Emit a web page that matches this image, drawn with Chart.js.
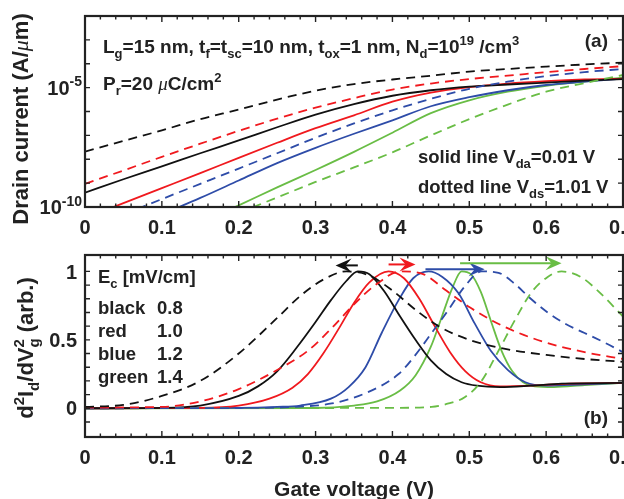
<!DOCTYPE html>
<html>
<head>
<meta charset="utf-8">
<script src="https://cdn.jsdelivr.net/npm/chart.js@4.4.0/dist/chart.umd.min.js"></script>
<style>
	html, body { margin: 0; padding: 0; background: #fff; }
	#wrap { position: relative; width: 624px; height: 499px; overflow: hidden; background: #fff; }
	canvas { position: absolute; left: 0; }
	#topPanel { top: 0; }
	#botPanel { top: 240px; }
</style>
</head>
<body>
<div id="wrap">
	<canvas id="topPanel" width="624" height="240"></canvas>
	<canvas id="botPanel" width="624" height="259"></canvas>
</div>
<script>
'use strict';

// ---- panel (a): drain current (A/um) against gate voltage (V) ----
var vgCurrent = [0, 0.05, 0.1, 0.15, 0.2, 0.25, 0.3, 0.35, 0.4, 0.45, 0.5, 0.55, 0.6, 0.65, 0.7];
var currentBlackSolid = [3.98e-10, 1.45e-9, 5.01e-9, 1.78e-8, 6.17e-8, 2.19e-7, 7.41e-7, 2.04e-6, 4.57e-6, 7.76e-6, 1.10e-5, 1.35e-5, 1.62e-5, 1.95e-5, 2.29e-5];
var currentBlackDash = [2.09e-8, 5.89e-8, 1.62e-7, 4.79e-7, 1.20e-6, 3.16e-6, 7.41e-6, 1.41e-5, 2.19e-5, 3.16e-5, 4.68e-5, 6.03e-5, 7.59e-5, 9.33e-5, 1.12e-4];
var currentRedSolid = [3.39e-11, 1.45e-10, 6.17e-10, 2.63e-9, 1.15e-8, 4.90e-8, 2.00e-7, 6.92e-7, 2.57e-6, 6.17e-6, 1.05e-5, 1.48e-5, 1.86e-5, 2.19e-5, 2.40e-5];
var currentRedDash = [9.33e-10, 3.39e-9, 1.26e-8, 4.47e-8, 1.55e-7, 5.01e-7, 1.45e-6, 3.63e-6, 8.32e-6, 1.48e-5, 2.29e-5, 3.16e-5, 4.47e-5, 6.03e-5, 7.94e-5];
var currentBlueSolid = [null, null, 4.90e-11, 2.40e-10, 1.29e-9, 6.92e-9, 3.02e-8, 1.17e-7, 4.27e-7, 1.66e-6, 3.98e-6, 7.76e-6, 1.29e-5, 1.78e-5, 2.40e-5];
var currentBlueDash = [null, 4.79e-11, 2.14e-10, 9.33e-10, 4.07e-9, 1.78e-8, 7.94e-8, 3.16e-7, 1.12e-6, 3.39e-6, 8.91e-6, 1.78e-5, 3.02e-5, 4.47e-5, 6.03e-5];
var currentGreenSolid = [null, null, null, 2.14e-11, 1.17e-10, 6.61e-10, 3.55e-9, 2.04e-8, 1.29e-7, 8.51e-7, 2.95e-6, 6.76e-6, 1.20e-5, 1.78e-5, 2.63e-5];
var currentGreenDash = [null, null, null, null, 5.62e-11, 2.51e-10, 1.12e-9, 4.57e-9, 1.95e-8, 1.00e-7, 4.79e-7, 1.95e-6, 6.76e-6, 1.55e-5, 3.39e-5];
var currentDecades = [1e-10, 1e-9, 1e-8, 1e-7, 1e-6, 1e-5, 1e-4, 1e-3, 1e-2];
var currentLabelExps = [-10, -5];

// ---- panel (b): d2Id/dVg2 (arb.) against gate voltage (V) ----
var vgBlackSolid = [0, 0.1, 0.15, 0.2, 0.225, 0.25, 0.275, 0.3, 0.32, 0.34, 0.355, 0.37, 0.39, 0.41, 0.43, 0.45, 0.47, 0.49, 0.51, 0.54, 0.58, 0.62, 0.7];
var d2BlackSolid = [0, 0.003, 0.02, 0.09, 0.16, 0.27, 0.44, 0.63, 0.79, 0.93, 1.0, 0.98, 0.85, 0.67, 0.5, 0.35, 0.25, 0.19, 0.165, 0.155, 0.165, 0.18, 0.185];
var vgBlackDash = [0, 0.05, 0.1, 0.15, 0.2, 0.25, 0.28, 0.31, 0.34, 0.37, 0.4, 0.43, 0.46, 0.5, 0.55, 0.6, 0.65, 0.7];
var d2BlackDash = [0.01, 0.025, 0.09, 0.2, 0.4, 0.66, 0.82, 0.94, 1.0, 0.97, 0.86, 0.72, 0.6, 0.5, 0.43, 0.39, 0.36, 0.34];
var vgRedSolid = [0, 0.15, 0.2, 0.24, 0.27, 0.29, 0.31, 0.33, 0.35, 0.37, 0.395, 0.415, 0.435, 0.455, 0.475, 0.495, 0.515, 0.54, 0.58, 0.63, 0.7];
var d2RedSolid = [0, 0.003, 0.02, 0.07, 0.15, 0.25, 0.4, 0.58, 0.77, 0.92, 1.0, 0.95, 0.8, 0.6, 0.41, 0.27, 0.19, 0.16, 0.165, 0.18, 0.185];
var vgRedDash = [0, 0.1, 0.15, 0.2, 0.25, 0.29, 0.32, 0.35, 0.38, 0.41, 0.44, 0.47, 0.5, 0.53, 0.56, 0.6, 0.65, 0.7];
var d2RedDash = [0.005, 0.01, 0.05, 0.14, 0.28, 0.42, 0.58, 0.76, 0.91, 1.0, 0.98, 0.86, 0.74, 0.64, 0.56, 0.48, 0.41, 0.36];
var vgBlueSolid = [0, 0.2, 0.25, 0.28, 0.32, 0.343, 0.365, 0.386, 0.408, 0.427, 0.447, 0.465, 0.486, 0.507, 0.528, 0.55, 0.573, 0.6, 0.65, 0.7];
var d2BlueSolid = [0, 0.003, 0.01, 0.02, 0.07, 0.155, 0.3, 0.55, 0.79, 0.95, 1.0, 0.96, 0.84, 0.62, 0.42, 0.28, 0.19, 0.165, 0.175, 0.185];
var vgBlueDash = [0, 0.2, 0.25, 0.28, 0.321, 0.365, 0.408, 0.43, 0.451, 0.473, 0.494, 0.516, 0.538, 0.559, 0.58, 0.602, 0.624, 0.65, 0.676, 0.7];
var d2BlueDash = [0, 0.002, 0.005, 0.012, 0.035, 0.11, 0.25, 0.39, 0.55, 0.72, 0.89, 1.0, 0.99, 0.91, 0.8, 0.7, 0.62, 0.55, 0.48, 0.41];
var vgGreenSolid = [0, 0.3, 0.35, 0.38, 0.41, 0.43, 0.45, 0.465, 0.478, 0.49, 0.502, 0.515, 0.528, 0.542, 0.556, 0.57, 0.585, 0.61, 0.65, 0.7];
var d2GreenSolid = [0, 0.002, 0.02, 0.05, 0.13, 0.24, 0.45, 0.68, 0.88, 1.0, 0.98, 0.85, 0.64, 0.42, 0.27, 0.19, 0.16, 0.155, 0.17, 0.185];
var vgGreenDash = [0, 0.4, 0.451, 0.473, 0.494, 0.516, 0.538, 0.559, 0.58, 0.602, 0.62, 0.645, 0.667, 0.7];
var d2GreenDash = [0, 0.003, 0.01, 0.035, 0.08, 0.2, 0.42, 0.64, 0.84, 0.96, 1.0, 0.96, 0.86, 0.67];
var d2LabelValues = [0, 0.5, 1];

// peak shift arrows (solid peak -> dashed peak)
var arrowColors = ['black', 'red', 'blue', 'green'];
var arrowFrom = [0.355, 0.395, 0.443, 0.488];
var arrowTo = [0.326, 0.43, 0.52, 0.62];
var arrowLevel = [1.044, 1.051, 1.015, 1.06];

// E_c legend table
var ecNames = ['black', 'red', 'blue', 'green'];
var ecValues = ['0.8', '1.0', '1.2', '1.4'];

var COLORS = { black: '#111111', red: '#f0191e', blue: '#2e4ca8', green: '#69bd45' };
var INK = '#222222';
var FONT = '"Liberation Sans", Arial, Helvetica, sans-serif';

function pairs(xs, ys) {
	return xs.map(function (x, i) {
		return { x: x, y: ys[i] };
	});
}

function curve(label, color, dashed, data) {
	return {
		label: label,
		data: data,
		borderColor: COLORS[color],
		borderWidth: 1.8,
		borderDash: dashed ? [9, 6] : [],
		pointRadius: 0,
		fill: false,
		cubicInterpolationMode: 'monotone',
		clip: 0
	};
}

/**
 * Draws text made of pieces: [text], [text, 'sub'], [text, 'sup'],
 * [text, 'mu'] (italic greek) or [sub, 'subsup', sup] stacked.
 */
function drawRich(ctx, parts, x, y, size, align, middle) {
	var small = Math.round(size * 0.68),
		pieces = [],
		width = 0;

	parts.forEach(function (p) {
		var kind = p[1] || '',
			sz = (kind === 'sub' || kind === 'sup' || kind === 'subsup') ? small : size,
			font = kind === 'mu' ?
				'italic ' + sz + 'px "Liberation Serif", "DejaVu Serif", serif' :
				'bold ' + sz + 'px ' + FONT,
			w;
		ctx.font = font;
		w = ctx.measureText(p[0]).width;
		if (kind === 'subsup') {
			w = Math.max(w, ctx.measureText(p[2]).width);
		}
		pieces.push({ p: p, kind: kind, font: font, w: w });
		width += w;
	});

	if (align === 'center') {
		x -= width / 2;
	} else if (align === 'right') {
		x -= width;
	}
	if (middle) {
		y += size * 0.36;
	}

	ctx.textAlign = 'left';
	ctx.textBaseline = 'alphabetic';
	pieces.forEach(function (pc) {
		ctx.font = pc.font;
		if (pc.kind === 'sub') {
			ctx.fillText(pc.p[0], x, y + size * 0.28);
		} else if (pc.kind === 'sup') {
			ctx.fillText(pc.p[0], x, y - size * 0.42);
		} else if (pc.kind === 'subsup') {
			ctx.fillText(pc.p[0], x, y + size * 0.28);
			ctx.fillText(pc.p[2], x, y - size * 0.42);
		} else {
			ctx.fillText(pc.p[0], x, y);
		}
		x += pc.w;
	});
}

function isTenth(v) {
	return Math.abs(v * 10 - Math.round(v * 10)) < 1e-6;
}

// frame, inward ticks, tick labels and annotations of one panel
function framePlugin(cfg) {
	return {
		id: 'frame',
		afterDraw: function (chart) {
			var ctx = chart.ctx,
				a = chart.chartArea,
				sx = chart.scales.x,
				sy = chart.scales.y;

			ctx.save();
			ctx.strokeStyle = INK;
			ctx.fillStyle = INK;
			ctx.lineWidth = 1.4;
			ctx.beginPath();
			sx.ticks.forEach(function (t) {
				var px = sx.getPixelForValue(t.value),
					len = isTenth(t.value) ? 6 : 3.5;
				if (px <= a.left + 1 || px >= a.right - 1) {
					return;
				}
				ctx.moveTo(px, a.bottom);
				ctx.lineTo(px, a.bottom - len);
				ctx.moveTo(px, a.top);
				ctx.lineTo(px, a.top + len);
			});
			sy.ticks.forEach(function (t) {
				var py = sy.getPixelForValue(t.value);
				if (py <= a.top + 1 || py >= a.bottom - 1) {
					return;
				}
				ctx.moveTo(a.left, py);
				ctx.lineTo(a.left + 5, py);
				ctx.moveTo(a.right, py);
				ctx.lineTo(a.right - 5, py);
			});
			ctx.stroke();

			ctx.lineWidth = 2.2;
			ctx.strokeRect(a.left, a.top, a.right - a.left, a.bottom - a.top);

			sx.ticks.forEach(function (t) {
				if (!isTenth(t.value)) {
					return;
				}
				drawRich(ctx, [[t.value === 0 ? '0' : t.value.toFixed(1)]],
					sx.getPixelForValue(t.value), a.bottom + 20, 20, 'center', true);
			});
			cfg.yLabels.forEach(function (lab) {
				drawRich(ctx, lab.parts, a.left - lab.gap,
					sy.getPixelForValue(lab.value), 20, 'right', true);
			});
			cfg.texts.forEach(function (t) {
				drawRich(ctx, t.parts, t.x, t.y, t.size, t.align || 'left');
			});
			cfg.titles.forEach(function (t) {
				ctx.save();
				ctx.translate(t.x, t.y);
				if (t.rotate) {
					ctx.rotate(-Math.PI / 2);
				}
				drawRich(ctx, t.parts, 0, 0, t.size, 'center');
				ctx.restore();
			});
			ctx.restore();
		}
	};
}

var arrowPlugin = {
	id: 'shiftArrows',
	afterDatasetsDraw: function (chart) {
		var ctx = chart.ctx,
			sx = chart.scales.x,
			sy = chart.scales.y;

		ctx.save();
		arrowFrom.forEach(function (v0, i) {
			var x0 = sx.getPixelForValue(v0),
				x1 = sx.getPixelForValue(arrowTo[i]),
				y = sy.getPixelForValue(arrowLevel[i]),
				dir = x1 > x0 ? 1 : -1,
				head = 16,
				half = 7;

			ctx.strokeStyle = COLORS[arrowColors[i]];
			ctx.fillStyle = COLORS[arrowColors[i]];
			ctx.lineWidth = 2;
			ctx.beginPath();
			ctx.moveTo(x0, y);
			ctx.lineTo(x1 - dir * head * 0.6, y);
			ctx.stroke();

			ctx.beginPath();
			ctx.moveTo(x1, y);
			ctx.lineTo(x1 - dir * head, y - half);
			ctx.lineTo(x1 - dir * head * 0.62, y);
			ctx.lineTo(x1 - dir * head, y + half);
			ctx.closePath();
			ctx.fill();
		});
		ctx.restore();
	}
};

function hiddenAxis(extra) {
	var axis = {
		type: 'linear',
		ticks: { display: false },
		grid: { display: false, drawTicks: false },
		border: { display: false }
	};
	Object.keys(extra).forEach(function (k) {
		axis[k] = extra[k];
	});
	return axis;
}

function baseOptions(padding, yAxis) {
	return {
		responsive: false,
		animation: false,
		devicePixelRatio: 1,
		layout: { padding: padding },
		plugins: { legend: { display: false }, tooltip: { enabled: false } },
		scales: {
			x: hiddenAxis({ min: 0, max: 0.7, ticks: { display: false, stepSize: 0.02 } }),
			y: yAxis
		}
	};
}

// ---- panel (a) ----
new Chart(document.getElementById('topPanel'), {
	type: 'line',
	data: {
		datasets: [
			curve('black Vds=1.01', 'black', true, pairs(vgCurrent, currentBlackDash)),
			curve('red Vds=1.01', 'red', true, pairs(vgCurrent, currentRedDash)),
			curve('blue Vds=1.01', 'blue', true, pairs(vgCurrent, currentBlueDash)),
			curve('green Vds=1.01', 'green', true, pairs(vgCurrent, currentGreenDash)),
			curve('black Vds=0.01', 'black', false, pairs(vgCurrent, currentBlackSolid)),
			curve('red Vds=0.01', 'red', false, pairs(vgCurrent, currentRedSolid)),
			curve('blue Vds=0.01', 'blue', false, pairs(vgCurrent, currentBlueSolid)),
			curve('green Vds=0.01', 'green', false, pairs(vgCurrent, currentGreenSolid))
		]
	},
	options: baseOptions({ left: 85, right: 1, top: 16, bottom: 33 }, hiddenAxis({
		type: 'logarithmic',
		min: 1e-10,
		max: 1e-2,
		afterBuildTicks: function (scale) {
			scale.ticks = currentDecades.map(function (v) {
				return { value: v };
			});
		}
	})),
	plugins: [framePlugin({
		yLabels: currentLabelExps.map(function (e) {
			return { value: Math.pow(10, e), gap: 3, parts: [['10'], [String(e), 'sup']] };
		}),
		texts: [
			{ x: 103, y: 53, size: 19, parts: [['L'], ['g', 'sub'], ['=15 nm, t'], ['f', 'sub'], ['=t'], ['sc', 'sub'],
				['=10 nm, t'], ['ox', 'sub'], ['=1 nm, N'], ['d', 'sub'], ['=10'], ['19', 'sup'], [' /cm'], ['3', 'sup']] },
			{ x: 103, y: 90, size: 19, parts: [['P'], ['r', 'sub'], ['=20 '], ['\u03bc', 'mu'], ['C/cm'], ['2', 'sup']] },
			{ x: 608, y: 47, size: 19, align: 'right', parts: [['(a)']] },
			{ x: 418, y: 163, size: 18.5, parts: [['solid line V'], ['da', 'sub'], ['=0.01 V']] },
			{ x: 418, y: 193, size: 18.5, parts: [['dotted line V'], ['ds', 'sub'], ['=1.01 V']] }
		],
		titles: [
			{ x: 28, y: 119, size: 22, rotate: true, parts: [['Drain current (A/'], ['\u03bc', 'mu'], ['m)']] }
		]
	})]
});

// ---- panel (b) ----
new Chart(document.getElementById('botPanel'), {
	type: 'line',
	data: {
		datasets: [
			curve('black Vds=1.01', 'black', true, pairs(vgBlackDash, d2BlackDash)),
			curve('red Vds=1.01', 'red', true, pairs(vgRedDash, d2RedDash)),
			curve('blue Vds=1.01', 'blue', true, pairs(vgBlueDash, d2BlueDash)),
			curve('green Vds=1.01', 'green', true, pairs(vgGreenDash, d2GreenDash)),
			curve('black Vds=0.01', 'black', false, pairs(vgBlackSolid, d2BlackSolid)),
			curve('red Vds=0.01', 'red', false, pairs(vgRedSolid, d2RedSolid)),
			curve('blue Vds=0.01', 'blue', false, pairs(vgBlueSolid, d2BlueSolid)),
			curve('green Vds=0.01', 'green', false, pairs(vgGreenSolid, d2GreenSolid))
		]
	},
	options: baseOptions({ left: 85, right: 1, top: 15, bottom: 62 }, hiddenAxis({
		min: -0.21,
		max: 1.12,
		ticks: { display: false, stepSize: 0.1 }
	})),
	plugins: [arrowPlugin, framePlugin({
		yLabels: d2LabelValues.map(function (v) {
			return { value: v, gap: 8, parts: [[String(v)]] };
		}),
		texts: [
			{ x: 98, y: 43, size: 18.5, parts: [['E'], ['c', 'sub'], [' [mV/cm]']] },
			{ x: 608, y: 184, size: 19, align: 'right', parts: [['(b)']] }
		].concat(ecNames.map(function (name, i) {
			return { x: 98, y: 74 + i * 23, size: 18.5, parts: [[name]] };
		}), ecValues.map(function (val, i) {
			return { x: 157, y: 74 + i * 23, size: 18.5, parts: [[val]] };
		})),
		titles: [
			{ x: 354, y: 256, size: 21, parts: [['Gate voltage (V)']] },
			{ x: 33, y: 108, size: 22, rotate: true,
				parts: [['d'], ['2', 'sup'], ['I'], ['d', 'sub'], ['/dV'], ['g', 'subsup', '2'], [' (arb.)']] }
		]
	})]
});
</script>
</body>
</html>
